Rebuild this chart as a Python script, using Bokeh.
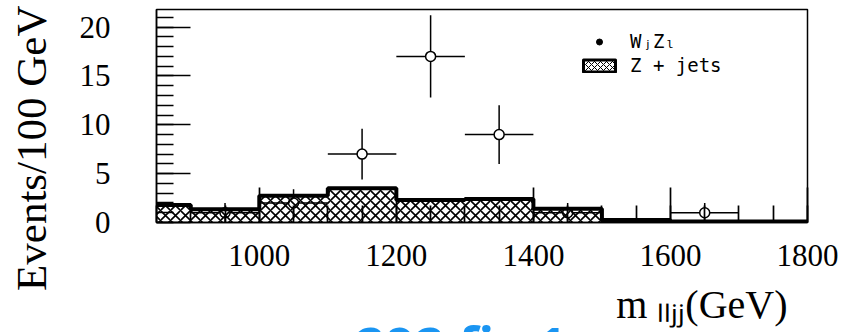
import math
from bokeh.plotting import figure
from bokeh.models import Range1d, SingleIntervalTicker, Legend, LegendItem, Title
from bokeh.embed import file_html
from bokeh.resources import INLINE

# ---------------- data ----------------
bin_edges = [800, 900, 1000, 1100, 1200, 1300, 1400, 1500, 1600, 1700, 1800]
zjets = [1.8, 1.35, 2.75, 3.5, 2.3, 2.4, 1.4, 0.25, 0.1, 0.1]
wz_mass = [950, 1050, 1150, 1250, 1350, 1450, 1650]
wz_events = [1, 2, 7, 17, 9, 1, 1]
wz_err = [1.0, 1.4, 2.6, 4.2, 3.0, 1.0, 1.0]
bin_width = 100
legend_labels = ["W\u2c7cZ\u2097", "Z + jets"]
y_label = "Events/100 GeV"
x_label = "m \u2097\u2097\u2c7c\u2c7c(GeV)"
caption = "292 fig 1"

NB = "\u00a0"
NAN = float("nan")

# ---------------- layout ----------------
X0, X1 = 850, 1800
Y0, Y1 = 0, 21.8

p = figure(frame_width=651, frame_height=213,
           x_range=Range1d(X0, X1), y_range=Range1d(Y0, Y1),
           output_backend="svg", toolbar_location=None,
           min_border_left=156, min_border_right=37,
           min_border_top=9, min_border_bottom=0)

p.background_fill_color = "white"
p.border_fill_color = "white"
p.outline_line_color = "black"
p.outline_line_width = 1.5
p.xgrid.visible = False
p.ygrid.visible = False

p.xaxis.ticker = SingleIntervalTicker(interval=200, num_minor_ticks=4)
p.yaxis.ticker = SingleIntervalTicker(interval=5, num_minor_ticks=5)
for ax, mj, mn, so in ((p.xaxis[0], 35, 17, 22), (p.yaxis[0], 34, 17, 46)):
    ax.major_tick_in = mj
    ax.major_tick_out = 0
    ax.minor_tick_in = mn
    ax.minor_tick_out = 0
    ax.axis_line_width = 1.5
    ax.axis_line_color = "black"
    ax.major_tick_line_width = 1.7
    ax.minor_tick_line_width = 1.7
    ax.major_tick_line_color = "black"
    ax.minor_tick_line_color = "black"
    ax.major_label_text_font = "Liberation Serif"
    ax.major_label_text_font_size = "31px"
    ax.major_label_text_color = "black"
    ax.major_label_standoff = so

# y title: top-aligned like the original (padding pushes the visible text down)
p.yaxis.axis_label = y_label + NB * 6
p.yaxis.axis_label_text_font = "Liberation Serif"
p.yaxis.axis_label_text_font_size = "43px"
p.yaxis.axis_label_text_font_style = "normal"
p.yaxis.axis_label_text_color = "black"
p.yaxis.axis_label_standoff = 22

# x title, right aligned below the tick labels
xt = Title(text=x_label, align="right", offset=20, standoff=22,
           text_font="Liberation Serif", text_font_size="40px",
           text_font_style="normal", text_color="black")
p.add_layout(xt, "below")

cap = Title(text=caption, align="left", offset=199,
            text_font="Open Sans", text_font_size="52px",
            text_font_style="bold", text_color="#1a95f2")
try:
    cap.standoff = -62
except Exception:
    cap.standoff = 0
p.add_layout(cap, "below")

# ---------------- W Z points (drawn first, hatch lies over them) ----------------
lo = [m - bin_width / 2 for m in wz_mass]
hi = [m + bin_width / 2 for m in wz_mass]
p.segment(x0=lo, x1=hi, y0=wz_events, y1=wz_events, line_color="black", line_width=1.5)
p.segment(x0=wz_mass, x1=wz_mass,
          y0=[v - e for v, e in zip(wz_events, wz_err)],
          y1=[v + e for v, e in zip(wz_events, wz_err)],
          line_color="black", line_width=1.5)
p.scatter(x=wz_mass, y=wz_events, marker="circle", size=10,
          fill_color="white", line_color="black", line_width=1.5)

# ---------------- Z + jets histogram ----------------
p.quad(left=bin_edges[:-1], right=bin_edges[1:], bottom=0, top=zjets,
       fill_alpha=0, line_color=None,
       hatch_pattern="x", hatch_color="black", hatch_weight=1.6, hatch_scale=10)
p.step(x=bin_edges, y=zjets + [zjets[-1]], mode="after",
       line_color="black", line_width=4)

# ---------------- legend (legend-only renderers hold NaN, so nothing shows in the plot) ----------------
leg_dot = p.scatter(x=[NAN], y=[NAN], marker="circle", size=7,
                    fill_color="black", line_color="black")
leg_box = p.quad(left=[NAN], right=[NAN], top=[NAN], bottom=[NAN],
                 fill_alpha=0, hatch_pattern="x", hatch_color="black",
                 hatch_weight=1.0, hatch_scale=6,
                 line_color="black", line_width=3, line_join="round")
legend = Legend(items=[LegendItem(label=legend_labels[0], renderers=[leg_dot]),
                       LegendItem(label=legend_labels[1], renderers=[leg_box])],
                location=(423, 146), orientation="vertical",
                glyph_width=40, glyph_height=15, label_standoff=11,
                spacing=2, padding=0, margin=0,
                border_line_color=None, background_fill_alpha=0,
                label_text_font="DejaVu Sans Mono", label_text_font_size="19px",
                label_text_color="black")
p.add_layout(legend, "center")

open("out.html", "w").write(file_html(p, INLINE))
